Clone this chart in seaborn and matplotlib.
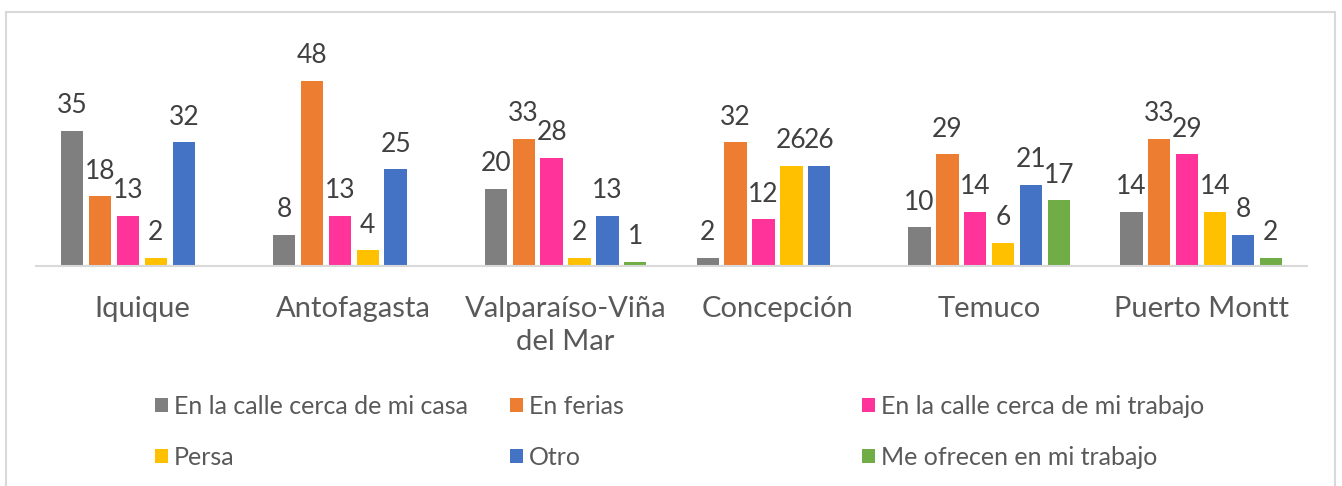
import matplotlib
matplotlib.use('Agg')
import matplotlib.pyplot as plt
from matplotlib.patches import Rectangle, Patch
import numpy as np
import pandas as pd
import seaborn as sns

sns.set_theme(style='white')
plt.rcParams['font.family'] = ['Lato', 'DejaVu Sans']

ciudades = ['Iquique', 'Antofagasta', 'Valparaíso-Viña\ndel Mar', 'Concepción', 'Temuco', 'Puerto Montt']
lugares = ['En la calle cerca de mi casa', 'En ferias', 'En la calle cerca de mi trabajo',
           'Persa', 'Otro', 'Me ofrecen en mi trabajo']
colores = ['#7F7F7F', '#ED7D31', '#FF3399', '#FFC000', '#4472C4', '#70AD47']

calle_casa = [35, 8, 20, 2, 10, 14]
ferias = [18, 48, 33, 32, 29, 33]
calle_trabajo = [13, 13, 28, 12, 14, 29]
persa = [2, 4, 2, 26, 6, 14]
otro = [32, 25, 13, 26, 21, 8]
ofrecen_trabajo = [None, None, 1, None, 17, 2]

series = [calle_casa, ferias, calle_trabajo, persa, otro, ofrecen_trabajo]
rows = []
for lugar, vals in zip(lugares, series):
    for ciudad, v in zip(ciudades, vals):
        rows.append({'ciudad': ciudad, 'lugar': lugar, 'valor': v})
df = pd.DataFrame(rows).dropna()

fig = plt.figure(figsize=(13.42, 4.86), dpi=100)
ax = fig.add_axes([36/1342, (486-265.7)/486, 1271/1342, 235.7/486])

sns.barplot(data=df, x='ciudad', y='valor', hue='lugar', order=ciudades, hue_order=lugares,
            palette=colores, width=0.79, gap=0.2, saturation=1, linewidth=0,
            legend=False, ax=ax)

for c in ax.containers:
    ax.bar_label(c, fmt='%d', padding=9, fontsize=19, color='#404040')

ax.set_ylim(0, 61.2)
ax.set_xlim(-0.5, 5.5)
ax.set_xlabel('')
ax.set_ylabel('')
ax.set_yticks([])
for s in ['top', 'right', 'left']:
    ax.spines[s].set_visible(False)
ax.spines['bottom'].set_color('#D9D9D9')
ax.spines['bottom'].set_linewidth(1.5)
ax.tick_params(axis='x', length=0, pad=22, labelsize=21, labelcolor='#595959')
for lab in ax.get_xticklabels():
    lab.set_linespacing(1.3)

# leyenda en tres bloques (columnas) como en el original
col_x = [155/1342, 510/1342, 862/1342]
for j in range(3):
    idx = [j, j + 3]
    handles = [Patch(facecolor=colores[i], edgecolor='none') for i in idx]
    fig.legend(handles, [lugares[i] for i in idx], loc='upper left',
               bbox_to_anchor=(col_x[j], 1 - 395/486), frameon=False, fontsize=18,
               handlelength=0.5, handleheight=0.5, handletextpad=0.25,
               labelspacing=1.1, labelcolor='#595959', borderaxespad=0, borderpad=0)

fig.patches.append(Rectangle((6/1342, -0.1), 1329/1342, 1.1 - 12/486, transform=fig.transFigure,
                             fill=False, edgecolor='#D9D9D9', linewidth=1.5))

fig.savefig('out.png', dpi=100)
